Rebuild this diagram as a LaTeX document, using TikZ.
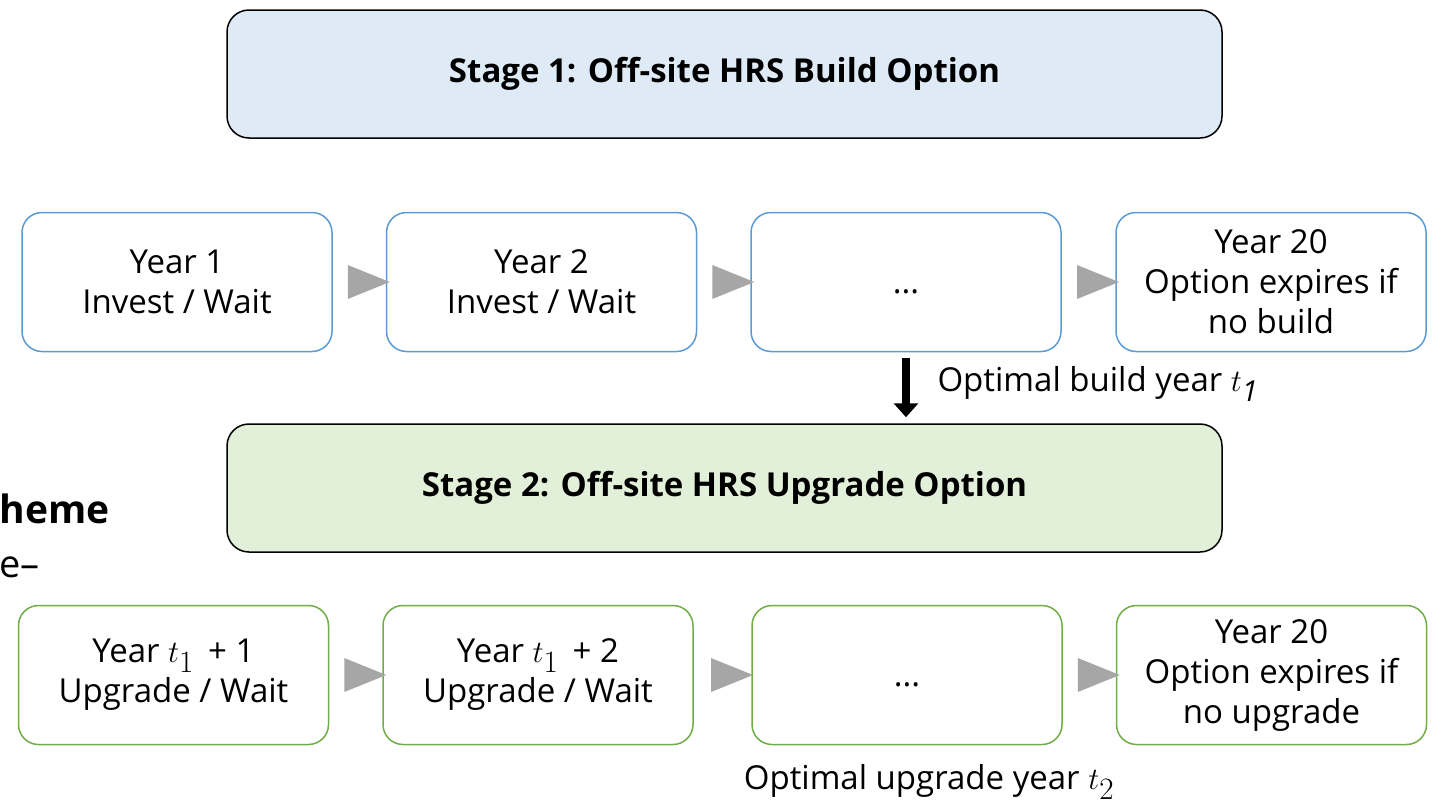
\documentclass[tikz,border=0pt]{standalone}
\usepackage{fontspec}
\setmainfont{Open Sans}
\usepackage{xcolor}
\usetikzlibrary{arrows.meta, positioning, calc, shapes.geometric}
\definecolor{stageblue}{HTML}{DEEBF7}
\definecolor{stagegreen}{HTML}{E2F0D9}
\definecolor{lineblue}{HTML}{5B9BD5}
\definecolor{linegreen}{HTML}{70AD47}
\definecolor{trigray}{HTML}{A6A6A6}
\newcommand{\tvar}[1]{\scalebox{1.25}{$t_{#1}$}}

\begin{document}
\begin{tikzpicture}[x=1pt, y=-1pt,
	stagebox/.style={draw=black, line width=1.5pt, rounded corners=22pt, minimum width=995pt, minimum height=128pt, font=\fontsize{33}{40}\selectfont\bfseries},
	yearbox/.style={draw, fill=white, line width=1.5pt, rounded corners=20pt, minimum width=310pt, minimum height=139pt, align=center, font=\fontsize{33}{40}\selectfont},
	tri/.style={isosceles triangle, isosceles triangle stretches, fill=trigray, inner sep=0pt, minimum width=34pt, minimum height=42pt},
	lbl/.style={font=\fontsize{33}{40}\selectfont}]
			\useasboundingbox (0,0) rectangle (1433,806);
			\node[stagebox, fill=stageblue] (s1) at (724.5,74) {Stage 1: Off-site HRS Build Option};
			\node[stagebox, fill=stagegreen] (s2) at (724.5,488) {Stage 2: Off-site HRS Upgrade Option};
			\foreach \x/\txt[count=\i] in {177/{Year 1\\Invest / Wait}, 541.5/{Year 2\\Invest / Wait}, 906/{\vphantom{Y}...}, 1271/{Year 20\\Option expires if\\no build}}
			{
				\node[yearbox, draw=lineblue] (b1\i) at (\x,282) {\txt};
			}
			\foreach \x/\txt[count=\i] in {173.5/{Year \tvar{1} \,+ 1\\Upgrade / Wait}, 538/{Year \tvar{1} \,+ 2\\Upgrade / Wait}, 907/{\vphantom{Y}...}, 1271.5/{Year 20\\Option expires if\\no upgrade}}
			{
				\node[yearbox, draw=linegreen] (b2\i) at (\x,675) {\txt};
			}
			\foreach \r in {1, 2}{
			\foreach \a[count=\b from 2] in {1, 2, 3}
			{
				\node[tri] (a\r\a) at ($(b\r\a.east)!0.5!(b\r\b.west)$) {};
			}}
			\draw[line width=8pt, -{Triangle[length=14pt, width=24pt]}] ($(b13.south)+(0,6)$) -- ($(b13.south |- s2.north)+(0,-6)$);
			\node[lbl, anchor=west] (t1) at (934,384) {Optimal build year \tvar{\mathit{1}}};
			\node[lbl] (t2) at (929,782) {Optimal upgrade year \tvar{2}};
			\node[anchor=west, font=\fontsize{39}{44}\selectfont\bfseries] (sch) at (-4,509) {heme};
			\node[anchor=west, inner sep=0pt, font=\fontsize{38}{44}\selectfont] (dash) at (-1,567) {e–};
		\end{tikzpicture}
\end{document}
